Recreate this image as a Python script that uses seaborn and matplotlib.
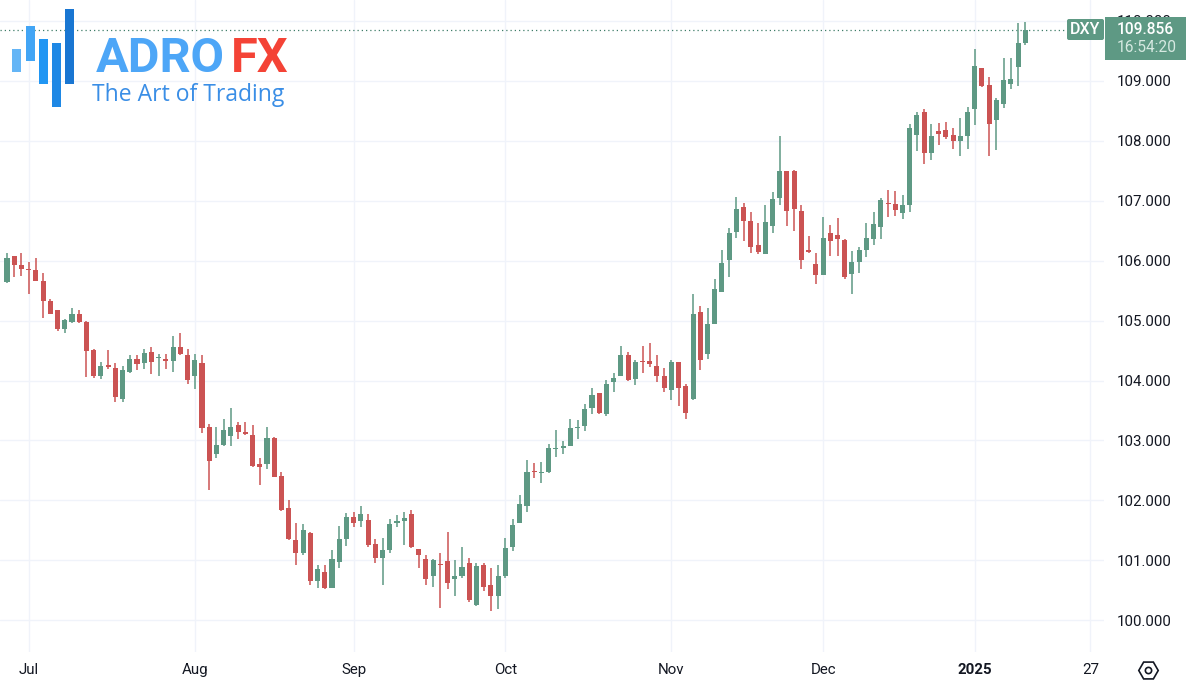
import pandas as pd
import numpy as np
import matplotlib
matplotlib.use('Agg')
import matplotlib.pyplot as plt
from matplotlib.patches import Rectangle, FancyBboxPatch
import seaborn as sns

# DXY daily candles (26 Jun 2024 .. 13 Jan 2025)
open_ = [105.65, 106.07, 105.92, 105.86, 105.85, 105.66, 105.33, 105.17, 104.86, 104.97,
         105.11, 104.98, 104.51, 104.08, 104.26, 104.21, 103.69, 104.15, 104.36, 104.30,
         104.47, 104.37, 104.36, 104.32, 104.56, 104.42, 104.07, 104.30, 103.22, 102.77,
         102.93, 103.08, 103.26, 103.14, 103.09, 102.61, 102.61, 103.04, 102.40, 101.87,
         101.34, 101.12, 101.45, 100.66, 100.80, 100.54, 100.98, 101.36, 101.72, 101.66,
         101.67, 101.27, 101.04, 101.17, 101.62, 101.65, 101.77, 101.19, 101.03, 100.74,
         100.94, 100.99, 100.68, 100.73, 100.96, 100.26, 100.92, 100.58, 100.41, 100.73,
         101.22, 101.63, 101.90, 102.49, 102.46, 102.47, 102.86, 102.87, 102.91, 103.21,
         103.24, 103.55, 103.80, 103.44, 103.97, 104.08, 104.43, 104.03, 104.33, 104.32,
         104.24, 104.08, 103.85, 104.31, 103.91, 103.69, 105.15, 104.44, 104.94, 105.48,
         106.01, 106.48, 106.89, 106.66, 106.26, 106.11, 106.58, 107.05, 107.50, 107.49,
         106.83, 106.18, 105.95, 105.76, 106.47, 106.43, 106.35, 105.78, 105.97, 106.18,
         106.37, 106.57, 106.97, 106.95, 106.80, 106.93, 108.10, 108.48, 107.80, 108.16,
         108.18, 108.09, 108.00, 108.08, 108.53, 109.21, 108.93, 108.34, 108.62, 108.95,
         109.23, 109.63]
high = [106.12, 106.08, 106.13, 105.98, 106.04, 105.79, 105.36, 105.18, 105.03, 105.21,
        105.18, 105.00, 104.52, 104.31, 104.51, 104.29, 104.24, 104.43, 104.43, 104.53,
        104.56, 104.45, 104.44, 104.75, 104.79, 104.53, 104.44, 104.43, 103.28, 103.22,
        103.36, 103.54, 103.30, 103.31, 103.26, 102.71, 103.22, 103.05, 102.48, 102.00,
        101.62, 101.61, 101.48, 100.92, 100.92, 101.17, 101.57, 101.79, 101.80, 101.91,
        101.77, 101.35, 101.38, 101.69, 101.76, 101.81, 101.84, 101.19, 101.09, 101.02,
        101.13, 101.47, 101.01, 101.22, 101.04, 100.96, 100.96, 100.88, 100.92, 101.38,
        101.69, 102.09, 102.67, 102.62, 102.64, 102.94, 103.18, 102.99, 103.36, 103.34,
        103.61, 103.87, 103.80, 104.01, 104.12, 104.57, 104.47, 104.34, 104.57, 104.63,
        104.43, 104.21, 104.34, 104.31, 103.94, 105.44, 105.24, 105.21, 105.69, 106.18,
        106.54, 107.07, 106.97, 106.82, 106.63, 106.93, 107.15, 108.08, 107.50, 107.51,
        106.93, 106.41, 106.13, 106.73, 106.60, 106.72, 106.37, 106.16, 106.22, 106.63,
        106.81, 107.04, 107.18, 107.16, 107.09, 108.28, 108.48, 108.53, 108.28, 108.29,
        108.31, 108.21, 108.38, 108.57, 109.54, 109.22, 109.07, 108.71, 109.38, 109.38,
        109.97, 109.99]
low = [105.62, 105.72, 105.75, 105.44, 105.66, 105.05, 105.11, 104.82, 104.80, 104.96,
       104.96, 104.06, 104.05, 104.03, 104.20, 103.65, 103.65, 104.13, 104.18, 104.20,
       104.11, 104.08, 104.20, 104.14, 104.43, 103.94, 103.86, 103.13, 102.17, 102.70,
       102.91, 102.91, 103.02, 103.09, 102.55, 102.26, 102.52, 102.39, 101.83, 101.34,
       100.92, 101.09, 100.59, 100.53, 100.52, 100.53, 100.88, 101.24, 101.56, 101.56,
       101.23, 100.96, 100.58, 101.13, 101.55, 101.26, 101.20, 100.88, 100.58, 100.56,
       100.21, 100.52, 100.41, 100.71, 100.31, 100.23, 100.48, 100.16, 100.18, 100.70,
       101.16, 101.62, 101.81, 102.37, 102.29, 102.45, 102.72, 102.77, 102.90, 103.03,
       103.16, 103.44, 103.44, 103.41, 103.81, 104.08, 104.00, 103.93, 104.12, 104.22,
       103.97, 103.81, 103.68, 103.58, 103.36, 103.68, 104.18, 104.36, 104.94, 105.48,
       105.72, 106.38, 106.33, 106.13, 106.11, 106.11, 106.47, 106.93, 106.58, 106.50,
       105.86, 106.12, 105.61, 105.76, 106.08, 106.08, 105.69, 105.44, 105.80, 106.06,
       106.27, 106.36, 106.73, 106.75, 106.70, 106.82, 107.83, 107.61, 107.68, 107.93,
       108.03, 107.86, 107.74, 107.86, 108.26, 108.89, 107.75, 107.85, 108.54, 108.87,
       108.92, 109.60]
close = [106.04, 105.93, 105.86, 105.85, 105.66, 105.33, 105.11, 104.86, 105.01, 105.11,
         104.98, 104.50, 104.08, 104.24, 104.23, 103.73, 104.18, 104.36, 104.27, 104.46,
         104.31, 104.40, 104.32, 104.56, 104.44, 104.01, 104.34, 103.20, 102.66, 102.93,
         103.18, 103.22, 103.14, 103.10, 102.58, 102.55, 103.04, 102.39, 101.84, 101.35,
         101.13, 101.51, 100.66, 100.86, 100.54, 101.02, 101.36, 101.72, 101.63, 101.77,
         101.25, 101.04, 101.18, 101.60, 101.65, 101.71, 101.22, 101.09, 100.69, 101.01,
         100.92, 100.62, 100.74, 100.89, 100.33, 100.91, 100.55, 100.41, 100.74, 101.21,
         101.59, 101.94, 102.48, 102.47, 102.48, 102.87, 102.88, 102.91, 103.21, 103.23,
         103.52, 103.76, 103.45, 103.95, 104.05, 104.43, 104.01, 104.31, 104.31, 104.28,
         104.08, 103.88, 104.31, 103.88, 103.45, 105.11, 104.34, 104.94, 105.52, 105.96,
         106.47, 106.86, 106.67, 106.22, 106.14, 106.64, 107.03, 107.50, 106.83, 106.86,
         106.01, 106.15, 105.76, 106.38, 106.33, 106.36, 105.72, 105.97, 106.18, 106.38,
         106.62, 107.01, 106.94, 106.85, 106.93, 108.21, 108.43, 107.80, 108.08, 108.11,
         108.07, 108.00, 108.08, 108.48, 109.25, 108.92, 108.28, 108.68, 109.02, 109.03,
         109.64, 109.856]

symbol = "DXY"
clock = "16:54:20"
holidays = ["2024-12-25", "2025-01-01"]
future_day = "2025-01-27"
future_holidays = ["2025-01-20"]
price_ticks = list(range(100, 111))

GREEN = "#5e9984"
RED = "#cb5353"
TEXT = "#131722"
GRID = "#f0f3fa"

dates = pd.bdate_range("2024-06-26", "2025-01-13", freq="C", holidays=holidays)
df = pd.DataFrame({"open": open_, "high": high, "low": low, "close": close}, index=dates)
df["x"] = np.arange(len(df))
df["up"] = df["close"] >= df["open"]

# month ticks: first trading day of each month, plus one future day
first = df.groupby(df.index.to_period("M"))["x"].min()
tick_pos = list(first.values[1:])
tick_lab = [p.strftime("%b") if p.month != 1 else str(p.year) for p in first.index[1:]]
extra = pd.bdate_range(df.index[-1] + pd.Timedelta(days=1), future_day, freq="C",
                       holidays=future_holidays)
tick_pos.append(df["x"].iloc[-1] + len(extra))
tick_lab.append(str(pd.Timestamp(future_day).day))

sns.set_style("white")
plt.rcParams["font.family"] = ["Roboto", "DejaVu Sans"]

fig = plt.figure(figsize=(11.86, 6.9), dpi=100)
ax = fig.add_axes([0, 38 / 690, 1104 / 1186, 652 / 690])

colors = np.where(df["up"], GREEN, RED)
body_lo = df[["open", "close"]].min(axis=1)
body_h = (df["close"] - df["open"]).abs().clip(lower=0.018)
ax.vlines(df["x"], df["low"], df["high"], color=colors, lw=1.1, zorder=3)
ax.bar(df["x"], body_h, bottom=body_lo, width=0.7, color=colors, lw=0, zorder=4)

ax.axhline(df["close"].iloc[-1], color="#3f7d69", lw=0.9, ls=(0, (1, 2.4)), zorder=2)

ax.set_xlim(-0.97, 151.9)
ax.set_ylim(99.47, 110.35)
ax.set_yticks(price_ticks)
ax.set_yticklabels([f"{v:.3f}" for v in price_ticks])
ax.yaxis.tick_right()
ax.set_xticks(tick_pos)
ax.set_xticklabels(tick_lab)
for lab in ax.get_xticklabels():
    if lab.get_text().isdigit() and len(lab.get_text()) == 4:
        lab.set_fontweight("bold")
ax.tick_params(axis="y", length=0, pad=9.5, labelsize=10.8, labelcolor=TEXT)
ax.tick_params(axis="x", length=0, pad=8, labelsize=10.8, labelcolor=TEXT)
ax.grid(True, color=GRID, lw=1)
for s in ax.spines.values():
    s.set_visible(False)

# overlay in pixel coordinates: logo, price labels, settings icon
ov = fig.add_axes([0, 0, 1, 1])
ov.set_xlim(0, 1186)
ov.set_ylim(690, 0)
ov.axis("off")

bars = [(12, 49, 72, "#64b5f6"), (25.5, 26, 61, "#42a5f5"), (38.5, 39, 84, "#2196f3"),
        (51.5, 43, 107, "#1e88e5"), (64.5, 9, 84, "#1976d2")]
for bx, top, bot, c in bars:
    ov.add_patch(Rectangle((bx, top), 9, bot - top, fc=c, lw=0))
ov.text(96, 72, "ADRO", fontsize=35, color="#4da6f7", fontweight="bold",
        va="baseline", ha="left")
ov.text(231, 72, "FX", fontsize=35, color="#f44336", fontweight="bold",
        va="baseline", ha="left")
ov.text(92, 101, "The Art of Trading", fontsize=16.5, color="#3a8ee6",
        family=["Open Sans", "DejaVu Sans"], va="baseline", ha="left")

ov.add_patch(FancyBboxPatch((1067, 19), 37, 21, boxstyle="round,pad=0,rounding_size=2",
                            fc=GREEN, lw=0))
ov.text(1085.5, 30, symbol, color="white", fontsize=11.5, ha="center", va="center",
        fontweight="medium")
ov.add_patch(Rectangle((1105, 17), 81, 43, fc=GREEN, lw=0))
ov.text(1117, 29, f"{df['close'].iloc[-1]:.3f}", color="white", fontsize=11.2,
        ha="left", va="center", fontweight="medium")
ov.text(1117, 48, clock, color="#d6e9e1", fontsize=11.2, ha="left", va="center")

ov.plot([1148], [670], marker="H", ms=14, mfc="none", mec=TEXT, mew=1.2)
ov.plot([1148], [670], marker="o", ms=4.5, mfc="none", mec=TEXT, mew=1.2)

fig.savefig("out.png", dpi=100)
